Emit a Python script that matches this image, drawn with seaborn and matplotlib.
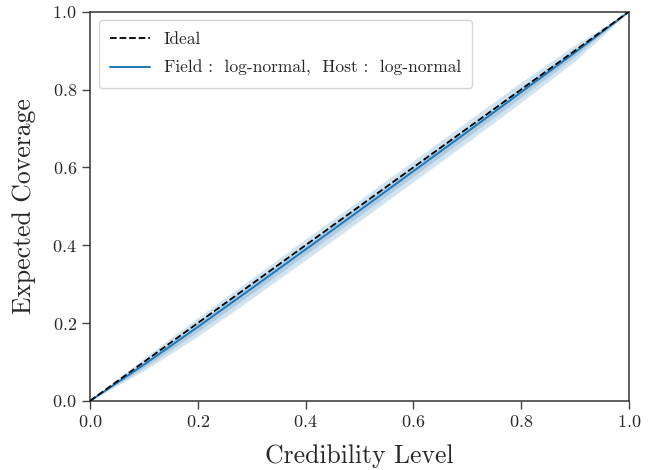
import numpy as np
import pandas as pd
import matplotlib
matplotlib.use("Agg")
import matplotlib.pyplot as plt
import seaborn as sns

# Credibility levels and expected coverage (median with 1- and 2-sigma bands)
credibility = [0.0, 0.1, 0.2, 0.3, 0.4, 0.5, 0.6, 0.7, 0.8, 0.9, 1.0]
coverage_med = [0.0, 0.093, 0.190, 0.289, 0.389, 0.489, 0.590, 0.691, 0.793, 0.895, 1.0]
coverage_lo1 = [0.0, 0.085, 0.178, 0.276, 0.376, 0.476, 0.577, 0.678, 0.780, 0.885, 1.0]
coverage_hi1 = [0.0, 0.101, 0.202, 0.302, 0.402, 0.502, 0.603, 0.704, 0.806, 0.905, 1.0]
coverage_lo2 = [0.0, 0.078, 0.166, 0.263, 0.362, 0.462, 0.563, 0.664, 0.767, 0.873, 1.0]
coverage_hi2 = [0.0, 0.110, 0.214, 0.315, 0.416, 0.516, 0.617, 0.718, 0.819, 0.915, 1.0]

ideal_label = "Ideal"
model_label = r"Field :  log-normal,  Host :  log-normal"

sns.set_theme(style="ticks")
plt.rcParams["font.family"] = ["cmr10", "DejaVu Sans"]
plt.rcParams["mathtext.fontset"] = "cm"
plt.rcParams["axes.formatter.use_mathtext"] = True
plt.rcParams["axes.unicode_minus"] = False

df = pd.DataFrame({"credibility": credibility, "coverage": coverage_med})

fig, ax = plt.subplots(figsize=(6.57, 4.70), dpi=100)
fig.subplots_adjust(left=0.137, right=0.957, top=0.975, bottom=0.147)

blue = "#1f77b4"
ax.fill_between(credibility, coverage_lo2, coverage_hi2, color=blue, alpha=0.2, lw=0)
ax.fill_between(credibility, coverage_lo1, coverage_hi1, color=blue, alpha=0.2, lw=0)
ax.plot([0, 1], [0, 1], ls="--", color="black", lw=1.3, label=ideal_label, zorder=3)
sns.lineplot(data=df, x="credibility", y="coverage", color=blue, lw=1.4,
             label=model_label, ax=ax, zorder=2)

ax.set_xlim(0, 1)
ax.set_ylim(0, 1)
ax.set_xticks(np.arange(0, 1.01, 0.2))
ax.set_yticks(np.arange(0, 1.01, 0.2))
ax.set_xlabel("Credibility Level", fontsize=18.5, labelpad=10)
ax.set_ylabel("Expected Coverage", fontsize=18.5, labelpad=12)
ax.tick_params(axis="both", labelsize=13, length=6, width=1, direction="out",
               color="#444444")
for s in ax.spines.values():
    s.set_color("#333333")
    s.set_linewidth(1.1)

# order legend: ideal first
h, l = ax.get_legend_handles_labels()
order = [l.index(ideal_label), l.index(model_label)]
ax.legend([h[i] for i in order], [l[i] for i in order], loc="upper left",
          fontsize=12.5, frameon=True, fancybox=True, edgecolor="#cccccc",
          handlelength=2.3, borderpad=0.65, labelspacing=0.75)

fig.savefig("out.png", dpi=100)
